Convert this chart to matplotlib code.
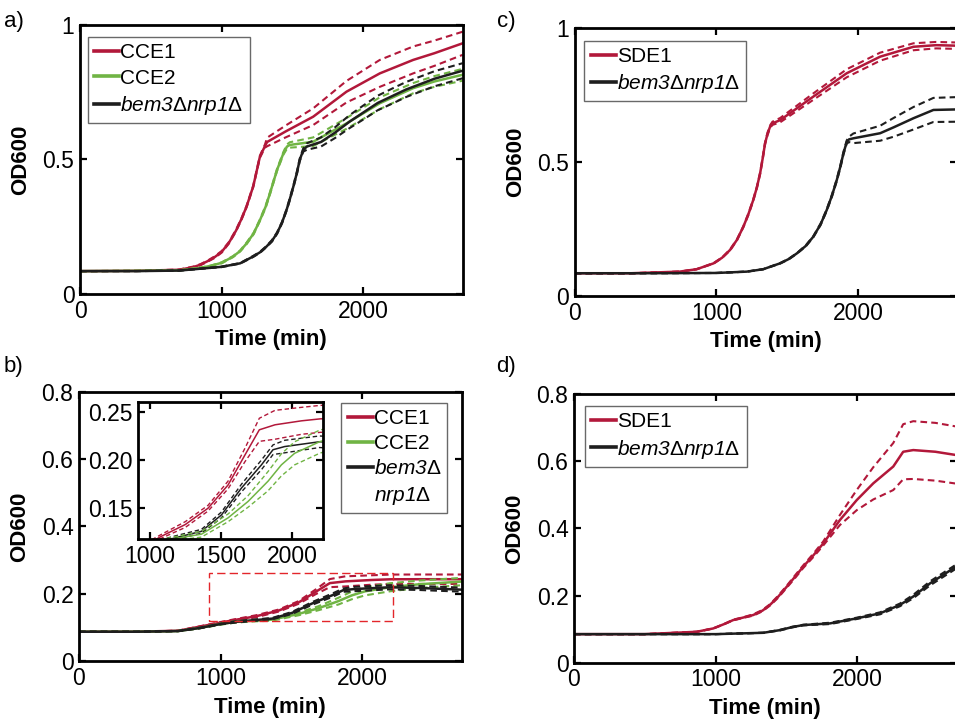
import numpy as np
import matplotlib
matplotlib.use('Agg')
import matplotlib.pyplot as plt
from matplotlib.patches import Rectangle

plt.rcParams['font.family'] = ['Liberation Sans', 'DejaVu Sans']
plt.rcParams['mathtext.fontset'] = 'custom'
plt.rcParams['mathtext.rm'] = 'Liberation Sans:italic'
plt.rcParams['mathtext.it'] = 'Liberation Sans:italic'
plt.rcParams['mathtext.sf'] = 'Liberation Sans'

RED = '#B2183A'
GREEN = '#70B444'
BLACK = '#1E1E1E'

# ---- panel a : CCE1 / CCE2 / bem3 nrp1 (mean, sd) ----
a_t_cce1 = [0, 400, 700, 800, 850, 900, 950, 1000, 1050, 1100, 1140, 1175, 1222, 1269, 1305, 1320, 1450, 1645, 1880, 2115, 2350, 2500, 2700]
a_cce1 = [0.085, 0.086, 0.090, 0.100, 0.109, 0.122, 0.137, 0.157, 0.190, 0.235, 0.280, 0.325, 0.400, 0.510, 0.550, 0.565, 0.604, 0.659, 0.752, 0.820, 0.870, 0.895, 0.932]
a_cce1_sd = [0, 0, 0.001, 0.002, 0.002, 0.002, 0.003, 0.003, 0.003, 0.003, 0.003, 0.003, 0.003, 0.004, 0.006, 0.016, 0.022, 0.031, 0.040, 0.050, 0.050, 0.047, 0.043]

a_t_cce2 = [0, 400, 700, 850, 925, 1000, 1080, 1130, 1175, 1225, 1270, 1310, 1340, 1390, 1435, 1460, 1480, 1645, 1880, 2115, 2350, 2500, 2700]
a_cce2 = [0.085, 0.086, 0.088, 0.097, 0.105, 0.116, 0.139, 0.160, 0.188, 0.225, 0.275, 0.325, 0.374, 0.461, 0.523, 0.548, 0.554, 0.566, 0.634, 0.709, 0.765, 0.790, 0.815]
a_cce2_sd = [0, 0, 0, 0.001, 0.001, 0.002, 0.002, 0.002, 0.003, 0.003, 0.003, 0.004, 0.004, 0.004, 0.005, 0.008, 0.010, 0.016, 0.020, 0.022, 0.019, 0.020, 0.022]

a_t_bem = [0, 400, 700, 1000, 1130, 1220, 1270, 1315, 1355, 1390, 1425, 1457, 1480, 1505, 1530, 1550, 1575, 1600, 1700, 1800, 1900, 2000, 2100, 2200, 2300, 2400, 2500, 2600, 2700]
a_bem = [0.085, 0.085, 0.087, 0.101, 0.114, 0.139, 0.155, 0.176, 0.198, 0.226, 0.265, 0.312, 0.352, 0.399, 0.450, 0.498, 0.535, 0.548, 0.565, 0.600, 0.640, 0.675, 0.710, 0.735, 0.760, 0.780, 0.800, 0.815, 0.830]
a_bem_sd = [0, 0, 0, 0.001, 0.001, 0.002, 0.002, 0.002, 0.003, 0.003, 0.003, 0.003, 0.004, 0.004, 0.005, 0.005, 0.006, 0.012, 0.017, 0.020, 0.024, 0.026, 0.027, 0.028, 0.028, 0.028, 0.028, 0.028, 0.028]

# ---- panel b : CCE1 / CCE2 / bem3 nrp1 ----
b_t_cce1 = [0, 400, 700, 850, 1000, 1085, 1250, 1410, 1550, 1670, 1770, 1880, 2065, 2200, 2400, 2700]
b_cce1 = [0.087, 0.087, 0.090, 0.102, 0.114, 0.121, 0.133, 0.150, 0.174, 0.2055, 0.2314, 0.2366, 0.2407, 0.2428, 0.243, 0.243]
b_cce1_sd = [0, 0, 0, 0.001, 0.002, 0.002, 0.003, 0.003, 0.004, 0.007, 0.012, 0.015, 0.014, 0.014, 0.014, 0.014]

b_t_cce2 = [0, 400, 700, 850, 1000, 1100, 1200, 1364, 1551, 1691, 1831, 1925, 2018, 2193, 2400, 2700]
b_cce2 = [0.087, 0.087, 0.089, 0.098, 0.110, 0.116, 0.119, 0.123, 0.140, 0.157, 0.178, 0.195, 0.207, 0.219, 0.228, 0.236]
b_cce2_sd = [0, 0, 0, 0.001, 0.002, 0.002, 0.002, 0.003, 0.004, 0.006, 0.010, 0.0115, 0.012, 0.012, 0.011, 0.011]

b_t_bem = [0, 400, 700, 850, 1000, 1100, 1200, 1364, 1504, 1645, 1785, 1866, 1948, 2193, 2400, 2700]
b_bem = [0.087, 0.087, 0.089, 0.098, 0.110, 0.116, 0.120, 0.126, 0.143, 0.171, 0.195, 0.2107, 0.214, 0.219, 0.217, 0.212]
b_bem_sd = [0, 0, 0, 0.001, 0.001, 0.002, 0.002, 0.002, 0.003, 0.004, 0.005, 0.005, 0.0065, 0.006, 0.006, 0.006]

# ---- panel c : SDE1 / bem3 nrp1 ----
c_t_sde1 = [0, 400, 740, 860, 980, 1040, 1096, 1145, 1190, 1225, 1260, 1285, 1308, 1325, 1343, 1360, 1378, 1395, 1450, 1684, 1919, 2155, 2390, 2550, 2700]
c_sde1 = [0.085, 0.085, 0.091, 0.100, 0.122, 0.143, 0.172, 0.210, 0.259, 0.305, 0.359, 0.405, 0.458, 0.510, 0.570, 0.605, 0.632, 0.645, 0.657, 0.745, 0.832, 0.894, 0.931, 0.937, 0.935]
c_sde1_sd = [0, 0, 0, 0, 0.001, 0.001, 0.002, 0.002, 0.002, 0.003, 0.003, 0.003, 0.003, 0.004, 0.004, 0.005, 0.005, 0.006, 0.008, 0.012, 0.015, 0.015, 0.013, 0.012, 0.012]

c_t_bem = [0, 500, 1000, 1214, 1330, 1449, 1510, 1567, 1630, 1684, 1735, 1778, 1815, 1849, 1875, 1896, 1919, 1935, 1966, 2155, 2250, 2390, 2531, 2700]
c_bem = [0.085, 0.085, 0.086, 0.091, 0.100, 0.122, 0.138, 0.159, 0.187, 0.222, 0.268, 0.321, 0.375, 0.433, 0.485, 0.533, 0.575, 0.585, 0.589, 0.608, 0.630, 0.664, 0.695, 0.697]
c_bem_sd = [0, 0, 0, 0, 0, 0.001, 0.001, 0.001, 0.002, 0.002, 0.003, 0.003, 0.004, 0.004, 0.005, 0.005, 0.006, 0.010, 0.018, 0.028, 0.035, 0.042, 0.045, 0.046]

# ---- panel d : SDE1 / bem3 nrp1 ----
d_t_sde1 = [0, 500, 866, 983, 1060, 1124, 1200, 1265, 1330, 1383, 1440, 1501, 1560, 1618, 1690, 1759, 1877, 1995, 2112, 2253, 2323, 2394, 2550, 2700]
d_sde1 = [0.085, 0.085, 0.092, 0.102, 0.115, 0.127, 0.135, 0.142, 0.155, 0.172, 0.196, 0.226, 0.256, 0.286, 0.320, 0.355, 0.425, 0.484, 0.534, 0.584, 0.628, 0.633, 0.628, 0.618]
d_sde1_sd = [0, 0, 0, 0, 0, 0.001, 0.001, 0.002, 0.002, 0.002, 0.003, 0.003, 0.004, 0.004, 0.005, 0.006, 0.015, 0.030, 0.048, 0.070, 0.082, 0.086, 0.086, 0.085]

d_t_bem = [0, 500, 1000, 1336, 1454, 1540, 1618, 1807, 1995, 2160, 2300, 2394, 2512, 2600, 2700]
d_bem = [0.085, 0.085, 0.085, 0.089, 0.097, 0.106, 0.112, 0.117, 0.132, 0.147, 0.172, 0.197, 0.236, 0.260, 0.287]
d_bem_sd = [0, 0, 0, 0, 0.001, 0.001, 0.001, 0.002, 0.002, 0.003, 0.004, 0.005, 0.006, 0.006, 0.006]

inset_xlim = (920, 2215)
inset_ylim = (0.118, 0.26)

LBL_BEM = r'$\mathrm{bem3}\mathsf{\Delta}\mathrm{nrp1}\mathsf{\Delta}$'
LBL_BEM_1 = r'$\mathrm{bem3}\mathsf{\Delta}$'
LBL_BEM_2 = r'$\mathrm{nrp1}\mathsf{\Delta}$'


def curve(ax, t, m, sd, color, label=None, lw=1.8, dlw=1.5):
    t = np.array(t)
    m = np.array(m)
    sd = np.array(sd)
    ax.plot(t, m + sd, color=color, lw=dlw, dashes=(3.2, 2.0))
    ax.plot(t, m - sd, color=color, lw=dlw, dashes=(3.2, 2.0))
    ax.plot(t, m, color=color, lw=lw, label=label)


def style(ax, size=16.5):
    for s in ax.spines.values():
        s.set_linewidth(2)
    ax.tick_params(direction='in', top=True, right=True, length=5, width=1.6,
                   labelsize=size, pad=4)


def legend(ax, loc, anchor):
    leg = ax.legend(loc=loc, bbox_to_anchor=anchor, fontsize=15, frameon=True,
                    fancybox=False, handlelength=1.2, handletextpad=0.05,
                    borderaxespad=0, borderpad=0.3, labelspacing=0.3)
    leg.get_frame().set_edgecolor('#444444')
    leg.get_frame().set_linewidth(1.0)
    for h in leg.legend_handles:
        h.set_linewidth(2.6)
    return leg


fig = plt.figure(figsize=(9.55, 7.2), dpi=100)

# a)
ax_a = fig.add_axes([0.0838, 0.5917, 0.4007, 0.3736])
curve(ax_a, a_t_cce1, a_cce1, a_cce1_sd, RED, 'CCE1')
curve(ax_a, a_t_cce2, a_cce2, a_cce2_sd, GREEN, 'CCE2')
curve(ax_a, a_t_bem, a_bem, a_bem_sd, BLACK, LBL_BEM)
ax_a.set_xlim(0, 2700)
ax_a.set_ylim(0, 1)
ax_a.set_xticks([0, 1000, 2000])
ax_a.set_yticks([0, 0.5, 1])
ax_a.set_yticklabels(['0', '0.5', '1'])
legend(ax_a, 'upper left', (0.021, 0.955))

# c)
ax_c = fig.add_axes([0.6018, 0.5889, 0.4007, 0.3718])
curve(ax_c, c_t_sde1, c_sde1, c_sde1_sd, RED, 'SDE1')
curve(ax_c, c_t_bem, c_bem, c_bem_sd, BLACK, LBL_BEM)
ax_c.set_xlim(0, 2700)
ax_c.set_ylim(0, 1)
ax_c.set_xticks([0, 1000, 2000])
ax_c.set_yticks([0, 0.5, 1])
ax_c.set_yticklabels(['0', '0.5', '1'])
legend(ax_c, 'upper left', (0.025, 0.954))

# b)
ax_b = fig.add_axes([0.0827, 0.0819, 0.4007, 0.3741])
curve(ax_b, b_t_cce1, b_cce1, b_cce1_sd, RED, 'CCE1')
curve(ax_b, b_t_cce2, b_cce2, b_cce2_sd, GREEN, 'CCE2')
curve(ax_b, b_t_bem, b_bem, b_bem_sd, BLACK, LBL_BEM_1)
ax_b.plot([], [], color='none', label=LBL_BEM_2)
ax_b.add_patch(Rectangle((inset_xlim[0], inset_ylim[0]), inset_xlim[1] - inset_xlim[0],
                         inset_ylim[1] - inset_ylim[0], fill=False, edgecolor='#E3262B',
                         lw=1.0, ls=(0, (6, 3)), zorder=5))
ax_b.set_xlim(0, 2700)
ax_b.set_ylim(0, 0.8)
ax_b.set_xticks([0, 1000, 2000])
ax_b.set_yticks([0, 0.2, 0.4, 0.6, 0.8])
ax_b.set_yticklabels(['0', '0.2', '0.4', '0.6', '0.8'])
legend(ax_b, 'upper right', (0.963, 0.959))

ax_in = fig.add_axes([0.1448, 0.2514, 0.1931, 0.1899])
curve(ax_in, b_t_cce1, b_cce1, b_cce1_sd, RED, lw=1.1, dlw=1.0)
curve(ax_in, b_t_bem, b_bem, b_bem_sd, BLACK, lw=1.1, dlw=1.0)
curve(ax_in, b_t_cce2, b_cce2, b_cce2_sd, GREEN, lw=1.1, dlw=1.0)
ax_in.set_xlim(*inset_xlim)
ax_in.set_ylim(*inset_ylim)
ax_in.set_xticks([1000, 1500, 2000])
ax_in.set_yticks([0.15, 0.20, 0.25])
ax_in.set_yticklabels(['0.15', '0.20', '0.25'])

# d)
ax_d = fig.add_axes([0.6010, 0.0796, 0.4007, 0.3732])
curve(ax_d, d_t_sde1, d_sde1, d_sde1_sd, RED, 'SDE1')
curve(ax_d, d_t_bem, d_bem, d_bem_sd, BLACK, LBL_BEM)
ax_d.set_xlim(0, 2700)
ax_d.set_ylim(0, 0.8)
ax_d.set_xticks([0, 1000, 2000])
ax_d.set_yticks([0, 0.2, 0.4, 0.6, 0.8])
ax_d.set_yticklabels(['0', '0.2', '0.4', '0.6', '0.8'])
legend(ax_d, 'upper left', (0.029, 0.955))

for ax in [ax_a, ax_b, ax_c, ax_d, ax_in]:
    style(ax)
for ax in [ax_a, ax_b, ax_c, ax_d]:
    ax.set_xlabel('Time (min)', fontsize=16, fontweight='bold', labelpad=5)
    ax.set_ylabel('OD600', fontsize=16, fontweight='bold', labelpad=8)

fig.text(0.004, 0.985, 'a)', fontsize=16, va='top')
fig.text(0.520, 0.985, 'c)', fontsize=16, va='top')
fig.text(0.004, 0.505, 'b)', fontsize=16, va='top')
fig.text(0.520, 0.505, 'd)', fontsize=16, va='top')

fig.savefig('out.png', dpi=100)
